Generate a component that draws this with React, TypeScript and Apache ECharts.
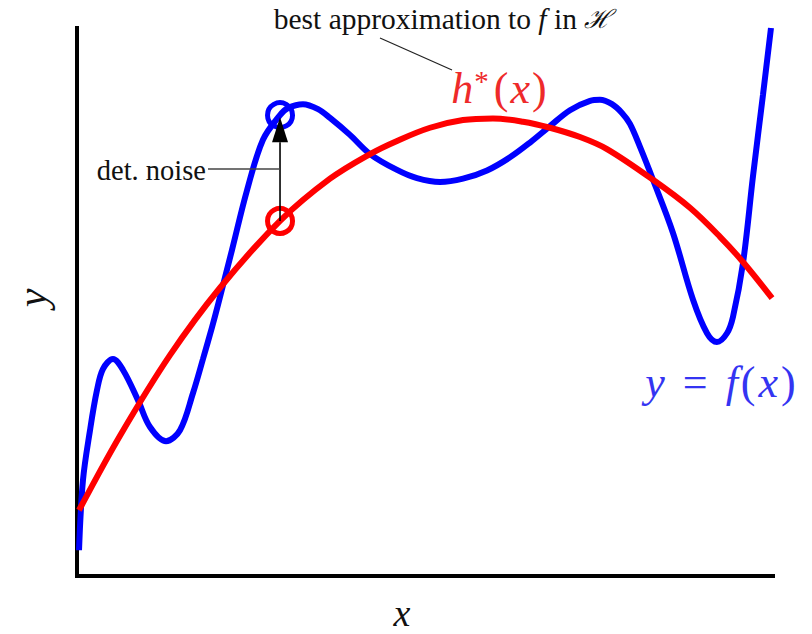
import { useEffect, useRef } from "react";
import * as echarts from "echarts";

// Abscissa of the marked point where the deterministic noise is shown.
const noiseX = 2.917;
const noiseF = 8.41; // f(noiseX)
const noiseH = 6.48; // h*(noiseX)

// Target function y = f(x)
const fCurve: [number, number][] = [
  [0.029, 0.47], [0.086, 1.75], [0.187, 2.66], [0.287, 3.39], [0.374, 3.78],
  [0.517, 3.96], [0.661, 3.76], [0.876, 3.21], [1.049, 2.72], [1.279, 2.46],
  [1.48, 2.66], [1.667, 3.34], [1.81, 3.96], [1.94, 4.54], [2.026, 4.95],
  [2.227, 5.95], [2.443, 7.04], [2.672, 7.96], [noiseX, noiseF], [3.032, 8.54],
  [3.247, 8.61], [3.463, 8.52], [3.635, 8.36], [3.922, 8.05], [4.21, 7.7],
  [4.598, 7.41], [4.885, 7.26], [5.216, 7.19], [5.546, 7.25], [5.891, 7.4],
  [6.221, 7.64], [6.509, 7.91], [6.796, 8.21], [7.083, 8.5], [7.371, 8.67],
  [7.514, 8.69], [7.687, 8.61], [7.83, 8.45], [7.945, 8.25], [8.089, 7.83],
  [8.276, 7.23], [8.563, 6.26], [8.851, 5.04], [9.052, 4.43], [9.195, 4.27],
  [9.339, 4.43], [9.425, 4.73], [9.569, 5.71], [9.713, 7.3], [9.856, 8.78],
  [9.971, 10.0],
];

// Best approximation h*(x) in the hypothesis set
const hCurve: [number, number][] = [
  [0.029, 1.2], [0.618, 2.56], [1.336, 4.03], [2.055, 5.26], [noiseX, noiseH],
  [3.635, 7.25], [4.21, 7.7], [4.598, 7.94], [5.072, 8.18], [5.546, 8.32],
  [5.977, 8.35], [6.408, 8.29], [6.796, 8.18], [7.227, 8.01], [7.615, 7.79],
  [8.276, 7.23], [8.807, 6.72], [9.239, 6.19], [9.569, 5.73], [9.986, 5.07],
];

const xRange = [0, 10];
const yRange = [0, 10];

const SERIF = "'Liberation Serif', 'DejaVu Serif', serif";
const BLUE = "#0000ff";
const RED = "#ff0000";
const BLUE_TEXT = "#3434f2";
const RED_TEXT = "#ee2a2a";

export default function App() {
  const ref = useRef<HTMLDivElement>(null);

  useEffect(() => {
    if (!ref.current) return;
    const chart = echarts.init(ref.current, null, { renderer: "svg" });

    const bareAxis = {
      type: "value" as const,
      axisTick: { show: false },
      axisLabel: { show: false },
      splitLine: { show: false },
      axisLine: { show: true, lineStyle: { color: "#000", width: 4, cap: "square" } },
    };

    chart.setOption({
      animation: false,
      backgroundColor: "#fff",
      grid: { left: 77, right: 39, top: 28, bottom: 58 },
      xAxis: { ...bareAxis, min: xRange[0], max: xRange[1] },
      yAxis: { ...bareAxis, min: yRange[0], max: yRange[1] },
      series: [
        {
          type: "line",
          data: fCurve,
          smooth: 0.35,
          showSymbol: false,
          clip: false,
          lineStyle: { color: BLUE, width: 6 },
          z: 2,
        },
        {
          type: "line",
          data: hCurve,
          smooth: 0.35,
          showSymbol: false,
          clip: false,
          lineStyle: { color: RED, width: 6 },
          z: 3,
        },
        {
          type: "scatter",
          data: [[noiseX, noiseF]],
          symbol: "circle",
          symbolSize: 25,
          itemStyle: { color: "rgba(0,0,0,0)", borderColor: BLUE, borderWidth: 5, opacity: 1 },
          z: 4,
        },
        {
          type: "scatter",
          data: [[noiseX, noiseH]],
          symbol: "circle",
          symbolSize: 25,
          itemStyle: { color: "rgba(0,0,0,0)", borderColor: RED, borderWidth: 5, opacity: 1 },
          z: 4,
        },
        {
          // arrow from h*(x) up to f(x)
          type: "custom",
          coordinateSystem: "cartesian2d",
          data: [[noiseX, noiseH, noiseF]],
          encode: { x: 0, y: [1, 2] },
          z: 6,
          renderItem: (_params: any, api: any) => {
            const from = api.coord([api.value(0), api.value(1)]);
            const to = api.coord([api.value(0), api.value(2)]);
            const headLen = 25;
            const headHalf = 8;
            const tipY = to[1] + 2;
            return {
              type: "group",
              children: [
                {
                  type: "line",
                  shape: { x1: from[0], y1: from[1], x2: to[0], y2: tipY + headLen },
                  style: { stroke: "#000", lineWidth: 1.6 },
                },
                {
                  type: "polygon",
                  shape: {
                    points: [
                      [to[0], tipY],
                      [to[0] - headHalf, tipY + headLen],
                      [to[0] + headHalf, tipY + headLen],
                    ],
                  },
                  style: { fill: "#000" },
                },
              ],
            };
          },
        },
      ],
      graphic: [
        {
          type: "text",
          x: 443,
          y: 19,
          z: 10,
          style: {
            text: "{a|best approximation to }{f|f}{a| in }{h|ℋ}",
            align: "center",
            verticalAlign: "middle",
            rich: {
              a: { fontFamily: SERIF, fontSize: 29.5, fill: "#111" },
              f: { fontFamily: SERIF, fontSize: 29.5, fontStyle: "italic", fill: "#111" },
              h: { fontFamily: "'DejaVu Serif', serif", fontSize: 26, fontStyle: "italic", fill: "#111" },
            },
          },
        },
        {
          type: "line",
          z: 10,
          shape: { x1: 380, y1: 38, x2: 452, y2: 70 },
          style: { stroke: "#222", lineWidth: 1.3 },
        },
        {
          type: "text",
          x: 500,
          y: 88,
          z: 10,
          style: {
            text: "{i|h}{s|*}{p|(}{i|x}{p|)}",
            align: "center",
            verticalAlign: "middle",
            rich: {
              i: { fontFamily: SERIF, fontSize: 44, fontStyle: "italic", fill: RED_TEXT },
              s: {
                fontFamily: SERIF, fontSize: 29, fill: RED_TEXT,
                verticalAlign: "top", lineHeight: 30, padding: [0, 3, 0, 1],
              },
              p: { fontFamily: SERIF, fontSize: 44, fill: RED_TEXT, padding: [0, 2] },
            },
          },
        },
        {
          type: "text",
          x: 206,
          y: 170,
          z: 10,
          style: {
            text: "det. noise",
            align: "right",
            verticalAlign: "middle",
            fontFamily: SERIF,
            fontSize: 28.5,
            fill: "#111",
          },
        },
        {
          type: "line",
          z: 10,
          shape: { x1: 208, y1: 169, x2: 280, y2: 169 },
          style: { stroke: "#444", lineWidth: 1.5 },
        },
        {
          type: "text",
          x: 722,
          y: 382,
          z: 10,
          style: {
            text: "{i|y}{e|=}{i|f}{p|(}{i|x}{p|)}",
            align: "center",
            verticalAlign: "middle",
            rich: {
              i: { fontFamily: SERIF, fontSize: 44, fontStyle: "italic", fill: BLUE_TEXT },
              e: { fontFamily: SERIF, fontSize: 44, fill: BLUE_TEXT, padding: [0, 18] },
              p: { fontFamily: SERIF, fontSize: 44, fill: BLUE_TEXT, padding: [0, 3] },
            },
          },
        },
        {
          type: "text",
          x: 402,
          y: 613,
          z: 10,
          style: {
            text: "x",
            align: "center",
            verticalAlign: "middle",
            fontFamily: SERIF,
            fontSize: 38,
            fontStyle: "italic",
            fill: "#111",
          },
        },
        {
          type: "text",
          x: 32,
          y: 298,
          rotation: Math.PI / 2,
          z: 10,
          style: {
            text: "y",
            align: "center",
            verticalAlign: "middle",
            fontFamily: SERIF,
            fontSize: 42,
            fontStyle: "italic",
            fill: "#111",
          },
        },
      ],
    });

    return () => chart.dispose();
  }, []);

  return (
    <div
      ref={ref}
      style={{ position: "absolute", left: 0, top: 0, width: 812, height: 634, background: "#fff" }}
    />
  );
}
